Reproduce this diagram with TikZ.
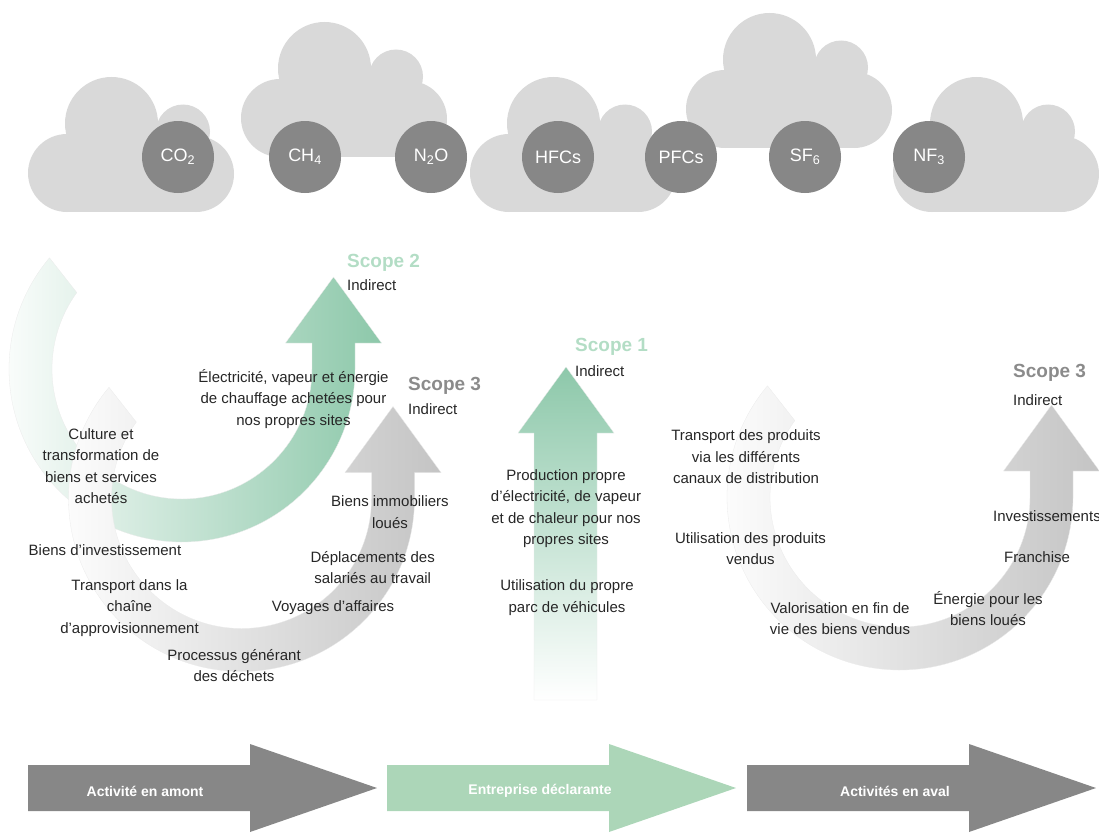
\documentclass[tikz,border=0pt]{standalone}
\usepackage{fontspec}
\setmainfont{Liberation Sans}

\definecolor{cloudgray}{HTML}{D9D9D9}
\definecolor{gasgray}{HTML}{878787}
\definecolor{scopegreen}{HTML}{8DC8AA}
\definecolor{labelgreen}{HTML}{B3DDC5}
\definecolor{scopegray}{HTML}{C4C4C4}
\definecolor{labelgray}{HTML}{8B8B8B}
\definecolor{flowgreen}{HTML}{ACD6B8}
\definecolor{textdark}{HTML}{262626}

\tikzset{
  gas/.style={circle, fill=gasgray, minimum size=72pt, inner sep=0pt, text=white,
    font=\fontsize{18}{18}\selectfont},
  lbl/.style={align=center, inner sep=0pt, text=textdark,
    font=\fontsize{15}{21.5}\selectfont},
  scopelbl/.style={anchor=west, inner sep=0pt, font=\bfseries\fontsize{19}{19}\selectfont},
  indirlbl/.style={anchor=west, inner sep=0pt, text=textdark, font=\fontsize{15}{15}\selectfont},
  flowlbl/.style={inner sep=0pt, text=white, font=\bfseries\fontsize{14}{14}\selectfont},
  faint/.style={draw=black!8, line width=0.3pt}
}

% un nuage : coin bas gauche (#1,#2)
\newcommand{\nuage}[2]{%
  \fill[cloudgray] (#1+39,#2-39) circle (39);
  \fill[cloudgray] (#1+83.5,#2-88.5) circle (46.5);
  \fill[cloudgray] (#1+155,#2-80.5) circle (27);
  \fill[cloudgray] (#1+168,#2-38) circle (38);
  \fill[cloudgray] (#1+39,#2-88) rectangle (#1+168,#2);}

% fleche courbe : centre (#1,#2), remplissage #3
\newcommand{\arcfleche}[3]{%
  \path[#3] (#1,#2) ++(220:173) arc[start angle=220, end angle=0, radius=173]
    -- ++(0,-26) -- ++(26.5,0) -- ++(-48,-66) -- ++(-48,66) -- ++(26.5,0)
    -- ++(0,26) arc[start angle=0, end angle=216, radius=130] -- cycle;}

% fleche du bas : depart x = #1
\newcommand{\flux}[2]{%
  \fill[#2] (#1,765) -- ++(222,0) -- ++(0,-21) -- ++(127,44) -- ++(-127,44)
    -- ++(0,-21) -- ++(-222,0) -- cycle;}

\begin{document}
\begin{tikzpicture}[x=1pt, y=-1pt]
    \useasboundingbox (0,0) rectangle (1099,832);

    % Nuages et gaz
    \nuage{28}{212}
    \nuage{241}{157}
    \nuage{470}{212}
    \nuage{686}{148}
    \nuage{893}{212}

    \node[gas] (co2) at (178,157) {CO\textsubscript{2}};
    \node[gas] (ch4) at (305,157) {CH\textsubscript{4}};
    \node[gas] (n2o) at (431,157) {N\textsubscript{2}O};
    \node[gas] (hfc) at (558,157) {HFCs};
    \node[gas] (pfc) at (681,157) {PFCs};
    \node[gas] (sf6) at (805,157) {SF\textsubscript{6}};
    \node[gas] (nf3) at (929,157) {NF\textsubscript{3}};

    % Fleches des scopes
    \arcfleche{182}{369}{left color=white, right color=scopegreen, faint}
    \arcfleche{241.5}{498.5}{left color=white, right color=scopegray, faint}
    \path[bottom color=white, top color=scopegreen, faint] (534,700) -- (534,433) -- (518,433)
      -- (566,367) -- (614,433) -- (597,433) -- (597,700) -- cycle;
    \arcfleche{900}{497}{left color=white, right color=scopegray, faint}

    \node[scopelbl, text=labelgreen] (s2) at (347,263) {Scope 2};
    \node[indirlbl] (i2) at (347,285) {Indirect};
    \node[scopelbl, text=labelgray] (s3a) at (408,386) {Scope 3};
    \node[indirlbl] (i3a) at (408,409) {Indirect};
    \node[scopelbl, text=labelgreen] (s1) at (575,347) {Scope 1};
    \node[indirlbl] (i1) at (575,371) {Indirect};
    \node[scopelbl, text=labelgray] (s3b) at (1013,373) {Scope 3};
    \node[indirlbl] (i3b) at (1013,400) {Indirect};

    % Textes amont
    \node[lbl] (elec) at (293.5,399) {Électricité, vapeur et énergie\\de chauffage achetées pour\\nos propres sites};
    \node[lbl] (culture) at (101,466) {Culture et\\transformation de\\biens et services\\achetés};
    \node[lbl] (invest) at (105,550) {Biens d’investissement};
    \node[lbl] (transport) at (129.5,608) {Transport dans la\\chaîne\\d’approvisionnement};
    \node[lbl] (dechets) at (234,665.5) {Processus générant\\des déchets};
    \node[lbl] (immo) at (390,512) {Biens immobiliers\\loués};
    \node[lbl] (deplac) at (372.7,567.5) {Déplacements des\\salariés au travail};
    \node[lbl] (voyages) at (333,608) {Voyages d’affaires};

    % Textes entreprise
    \node[lbl] (prod) at (566,508.5) {Production propre\\d’électricité, de vapeur\\et de chaleur pour nos\\propres sites};
    \node[lbl] (parc) at (567,597.5) {Utilisation du propre\\parc de véhicules};

    % Textes aval
    \node[lbl] (distrib) at (746,457) {Transport des produits\\via les différents\\canaux de distribution};
    \node[lbl] (utilis) at (750.5,548.5) {Utilisation des produits\\vendus};
    \node[lbl] (valor) at (840,618.5) {Valorisation en fin de\\vie des biens vendus};
    \node[lbl] (energie) at (988,608.5) {Énergie pour les\\biens loués};
    \node[lbl] (franchise) at (1037,557) {Franchise};
    \node[lbl, anchor=west] (investis) at (993,516) {Investissements};

    % Fleches du bas
    \flux{28}{gasgray}
    \flux{387}{flowgreen}
    \flux{747}{gasgray}
    \node[flowlbl] (amont) at (145,791) {Activité en amont};
    \node[flowlbl] (entreprise) at (540,791) {Entreprise déclarante};
    \node[flowlbl] (aval) at (895,791) {Activités en aval};
\end{tikzpicture}
\end{document}
